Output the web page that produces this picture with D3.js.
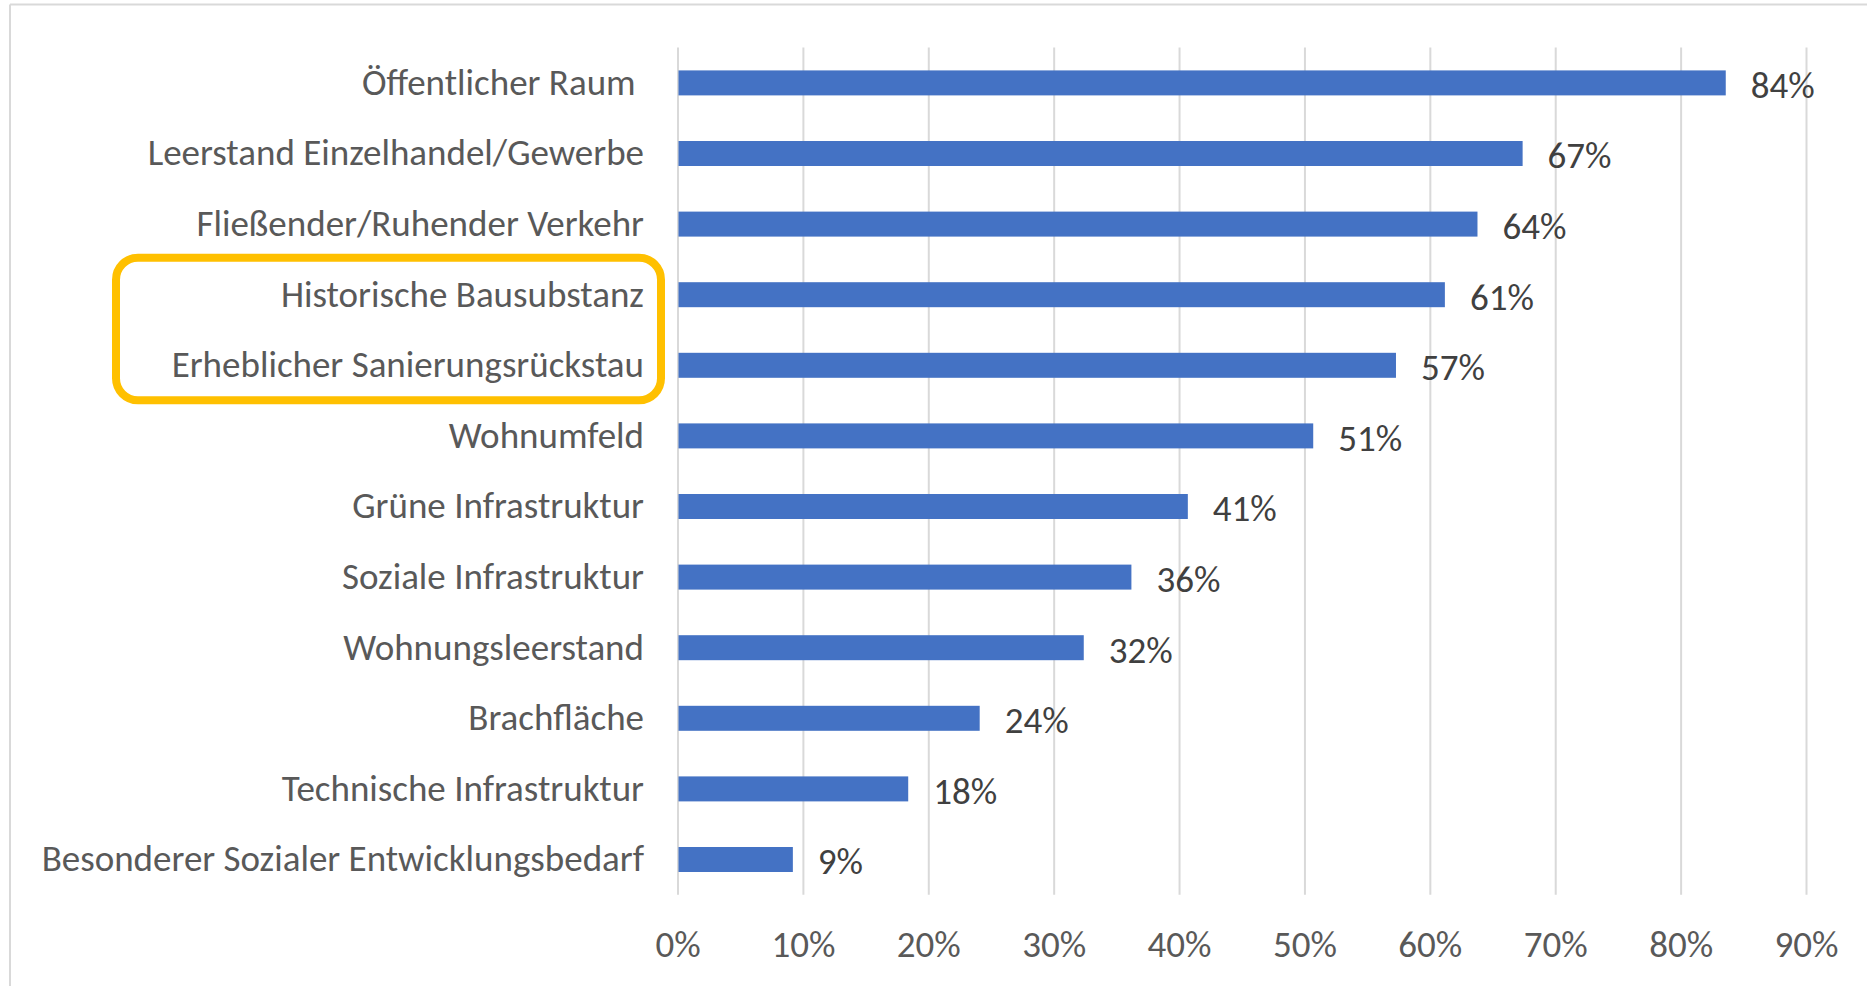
<!DOCTYPE html>
<html lang="de">
<head>
<meta charset="UTF-8"/>
<title>Handlungsbedarfe</title>
<script src="https://d3js.org/d3.v7.min.js"></script>
<style>
	body { margin: 0; background: #fff; }
	text { font-family: Carlito, Calibri, Lato, sans-serif; }
</style>
</head>
<body>
<script>
	var w = 1867;
	var h = 986;

	// data
	var categories = [
		"Öffentlicher Raum ",
		"Leerstand Einzelhandel/Gewerbe",
		"Fließender/Ruhender Verkehr",
		"Historische Bausubstanz",
		"Erheblicher Sanierungsrückstau",
		"Wohnumfeld",
		"Grüne Infrastruktur",
		"Soziale Infrastruktur",
		"Wohnungsleerstand",
		"Brachfläche",
		"Technische Infrastruktur",
		"Besonderer Sozialer Entwicklungsbedarf"
	];
	var values = [0.836, 0.674, 0.638, 0.612, 0.573, 0.507, 0.407, 0.362, 0.324, 0.241, 0.184, 0.092];
	var tickValues = [0, 0.1, 0.2, 0.3, 0.4, 0.5, 0.6, 0.7, 0.8, 0.9];
	var highlighted = ["Historische Bausubstanz", "Erheblicher Sanierungsrückstau"];

	var plotLeft = 677.5, plotRight = 1806, plotTop = 47.6, plotBottom = 894.8;
	var fontSize = "37px";

	var svg = d3.select("body")
		.append("svg")
		.attr("width", w)
		.attr("height", h);

	// chart frame (only top and left edge visible)
	svg.append("line")
		.attr("x1", 10).attr("x2", w).attr("y1", 4.5).attr("y2", 4.5)
		.attr("stroke", "#d9d9d9").attr("stroke-width", 2);
	svg.append("line")
		.attr("x1", 10).attr("x2", 10).attr("y1", 4.5).attr("y2", h)
		.attr("stroke", "#d9d9d9").attr("stroke-width", 2);

	var xScale = d3.scaleLinear()
		.domain([0, 0.9])
		.range([plotLeft, plotRight]);

	var yScale = d3.scaleBand()
		.domain(categories)
		.range([plotTop, plotBottom])
		.paddingInner(0.646)
		.paddingOuter(0.323);

	// gridlines + tick labels
	var xAxis = d3.axisBottom(xScale)
		.tickValues(tickValues)
		.tickSize(-(plotBottom - plotTop))
		.tickFormat(d3.format(".0%"));

	var gx = svg.append("g")
		.attr("transform", "translate(0," + plotBottom + ")")
		.call(xAxis);
	gx.select(".domain").remove();
	gx.selectAll(".tick line")
		.attr("stroke", "#d9d9d9")
		.attr("stroke-width", 2);
	gx.selectAll(".tick text")
		.attr("y", 49)
		.attr("dy", "0.35em")
		.attr("fill", "#595959")
		.style("font-size", fontSize);

	// bars
	svg.selectAll("rect.bar")
		.data(values)
		.enter()
		.append("rect")
		.attr("class", "bar")
		.attr("x", xScale(0) + 1)
		.attr("y", function(d, i) { return yScale(categories[i]); })
		.attr("width", function(d) { return xScale(d) - xScale(0) - 1; })
		.attr("height", yScale.bandwidth())
		.attr("fill", "#4472c4");

	// value labels
	svg.selectAll("text.val")
		.data(values)
		.enter()
		.append("text")
		.attr("class", "val")
		.attr("x", function(d) { return xScale(d) + 25; })
		.attr("y", function(d, i) { return yScale(categories[i]) + yScale.bandwidth() / 2 + 2; })
		.attr("dy", "0.35em")
		.attr("fill", "#404040")
		.style("font-size", fontSize)
		.text(function(d) { return Math.round(d * 100) + "%"; });

	// category labels
	svg.selectAll("text.cat")
		.data(categories)
		.enter()
		.append("text")
		.attr("class", "cat")
		.attr("x", 644)
		.attr("y", function(d) { return yScale(d) + yScale.bandwidth() / 2 - 1; })
		.attr("dy", "0.35em")
		.attr("text-anchor", "end")
		.attr("fill", "#595959")
		.style("font-size", fontSize)
		.style("white-space", "pre")
		.text(function(d) { return d; });

	// highlight box around two categories
	var hTop = yScale(highlighted[0]) + yScale.bandwidth() / 2 - 37;
	var hBottom = yScale(highlighted[1]) + yScale.bandwidth() / 2 + 35;
	svg.append("rect")
		.attr("x", 116)
		.attr("y", hTop)
		.attr("width", 661 - 116)
		.attr("height", hBottom - hTop)
		.attr("rx", 22)
		.attr("fill", "none")
		.attr("stroke", "#ffc000")
		.attr("stroke-width", 8);
</script>
</body>
</html>
